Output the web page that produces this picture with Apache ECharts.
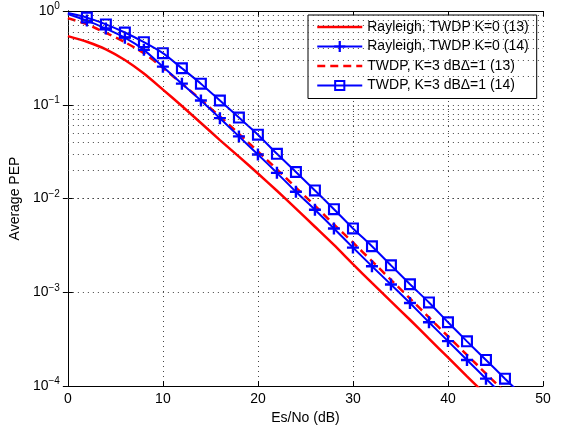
<!doctype html>
<html>
<head>
<meta charset="utf-8">
<title>Average PEP</title>
<script src="https://cdn.jsdelivr.net/npm/echarts@6/dist/echarts.min.js"></script>
<style> html, body {margin: 0; padding: 0; background: #fff;} #main {width: 566px; height: 430px;} </style>
</head>
<body>
<div id="main"></div>
<script>
// Es/No grid (dB)
var snr = [0, 2, 4, 6, 8, 10, 12, 14, 16, 18, 20, 22, 24, 26, 28, 30, 32, 34, 36, 38, 40, 42, 44, 46, 48];

// values
var rayleigh13 = [0.54, 0.47, 0.39, 0.30, 0.215, 0.145, 0.097, 0.064, 0.042, 0.028, 0.0185, 0.0121, 0.0078, 0.0050, 0.0032,
    0.0020, 0.00126, 0.00080, 0.00051, 0.00032, 0.000202, 0.000127, 0.0000803, 0.0000508, 0.0000321];
var rayleigh14 = [0.93, 0.79, 0.65, 0.52, 0.385, 0.255, 0.168, 0.111, 0.072, 0.046, 0.0295, 0.0188, 0.0118, 0.0076, 0.0048,
    0.0030, 0.0019, 0.00121, 0.00077, 0.00048, 0.000302, 0.00019, 0.00012, 0.000076, 0.000048];
var twdp13 = [0.84, 0.72, 0.585, 0.465, 0.355, 0.248, 0.168, 0.113, 0.075, 0.049, 0.0318, 0.0205, 0.0131, 0.0084, 0.0053,
    0.0034, 0.00215, 0.00136, 0.00086, 0.00054, 0.00034, 0.000215, 0.000136, 0.000086, 0.000054];
var twdp14 = [0.95, 0.85, 0.72, 0.59, 0.465, 0.355, 0.245, 0.168, 0.111, 0.073, 0.048, 0.030, 0.0192, 0.0122, 0.0077,
    0.0048, 0.0031, 0.00194, 0.00122, 0.00078, 0.00048, 0.00030, 0.00019, 0.00012, 0.000076];

var names = ['Rayleigh, TWDP K=0 (13)', 'Rayleigh, TWDP K=0 (14)', 'TWDP, K=3 dB\u0394=1 (13)', 'TWDP, K=3 dB\u0394=1 (14)'];
var decades = [-4, -3, -2, -1];

var FONT = 'Liberation Sans, Arial, Helvetica, sans-serif';
var plusPath = 'path://M4,0H6V4H10V6H6V10H4V6H0V4H4Z';
var squarePath = 'path://M0,0H10V10H0Z M1.8,1.8V8.2H8.2V1.8Z';

function pts(ys, firstHidden) {
    return snr.map(function (x, i) {
        if (firstHidden && i === 0) return {value: [x, ys[i]], symbol: 'none'};
        return [x, ys[i]];
    });
}

// minor grid lines of the log axis (2..9 in every decade)
var minor = [];
decades.forEach(function (d) {
    for (var k = 2; k <= 9; k++) minor.push({yAxis: k * Math.pow(10, d)});
});

var dotted = {color: '#444', width: 1, type: [1, 4]};

var c = echarts.init(document.getElementById('main'));
var option = {
    animation: false,
    backgroundColor: '#fff',
    textStyle: {fontFamily: FONT},
    grid: {left: 67, right: 23, top: 11, bottom: 43, containLabel: false},
    legend: {
        orient: 'vertical',
        left: 308, top: 15,
        itemWidth: 45, itemHeight: 14, itemGap: 5.5,
        padding: [5, 8, 6, 8],
        backgroundColor: '#fff',
        borderColor: '#000', borderWidth: 1,
        textStyle: {color: '#000', fontSize: 14, fontFamily: FONT},
        data: [
            {name: names[0], itemStyle: {opacity: 0}, lineStyle: {width: 2.5}},
            {name: names[1], lineStyle: {width: 2}},
            {name: names[2], itemStyle: {opacity: 0}, lineStyle: {width: 2.5}},
            {name: names[3], lineStyle: {width: 2}}
        ]
    },
    xAxis: [{
        type: 'value', min: 0, max: 50, interval: 10,
        name: 'Es/No (dB)', nameLocation: 'middle', nameGap: 21,
        nameTextStyle: {color: '#000', fontSize: 14, fontFamily: FONT},
        axisLine: {lineStyle: {color: '#000', width: 1}},
        axisTick: {inside: true, length: 5, lineStyle: {color: '#000'}},
        axisLabel: {color: '#000', fontSize: 14, margin: 6, fontFamily: FONT},
        splitLine: {show: true, lineStyle: dotted}
    }, {
        type: 'value', min: 0, max: 50, interval: 10, position: 'top',
        axisLine: {lineStyle: {color: '#000', width: 1}},
        axisTick: {inside: true, length: 5, lineStyle: {color: '#000'}},
        axisLabel: {show: false}, splitLine: {show: false}
    }],
    yAxis: [{
        type: 'log', logBase: 10, min: 1e-4, max: 1,
        name: 'Average PEP', nameLocation: 'middle', nameGap: 34,
        nameTextStyle: {color: '#000', fontSize: 14, fontFamily: FONT},
        axisLine: {lineStyle: {color: '#000', width: 1}},
        axisTick: {inside: true, length: 5, lineStyle: {color: '#000'}},
        axisLabel: {
            color: '#000', fontSize: 14, margin: 8, fontFamily: FONT,
            formatter: function (v) {
                var e = Math.round(Math.log10(v));
                return '10{sup|' + (e < 0 ? '\u2212' + (-e) : e) + '}';
            },
            rich: {sup: {fontSize: 10, color: '#000', fontFamily: FONT, padding: [0, 0, 9, 0]}}
        },
        splitLine: {show: true, lineStyle: dotted}
    }, {
        type: 'log', logBase: 10, min: 1e-4, max: 1, position: 'right',
        axisLine: {lineStyle: {color: '#000', width: 1}},
        axisTick: {inside: true, length: 5, lineStyle: {color: '#000'}},
        axisLabel: {show: false}, splitLine: {show: false}
    }],
    series: [
        {
            name: 'minor', type: 'line', data: [], silent: true,
            markLine: {silent: true, symbol: 'none', label: {show: false}, lineStyle: dotted, data: minor}
        },
        {
            name: names[0], type: 'line', data: pts(rayleigh13), showSymbol: false, symbol: 'none', smooth: 0.2,
            lineStyle: {color: '#ff0000', width: 2.5}, itemStyle: {color: '#ff0000'}, z: 3
        },
        {
            name: names[1], type: 'line', data: pts(rayleigh14, true), smooth: 0.2,
            symbol: plusPath, symbolSize: 12,
            lineStyle: {color: '#0000ff', width: 2}, itemStyle: {color: '#0000ff'}, z: 4
        },
        {
            name: names[2], type: 'line', data: pts(twdp13), showSymbol: false, symbol: 'none', smooth: 0.2,
            lineStyle: {color: '#ff0000', width: 2.5, type: [8, 5]}, itemStyle: {color: '#ff0000'}, z: 3
        },
        {
            name: names[3], type: 'line', data: pts(twdp14, true), smooth: 0.2,
            symbol: squarePath, symbolSize: 12,
            lineStyle: {color: '#0000ff', width: 2}, itemStyle: {color: '#0000ff'}, z: 4
        }
    ]
};
c.setOption(option);
</script>
</body>
</html>
